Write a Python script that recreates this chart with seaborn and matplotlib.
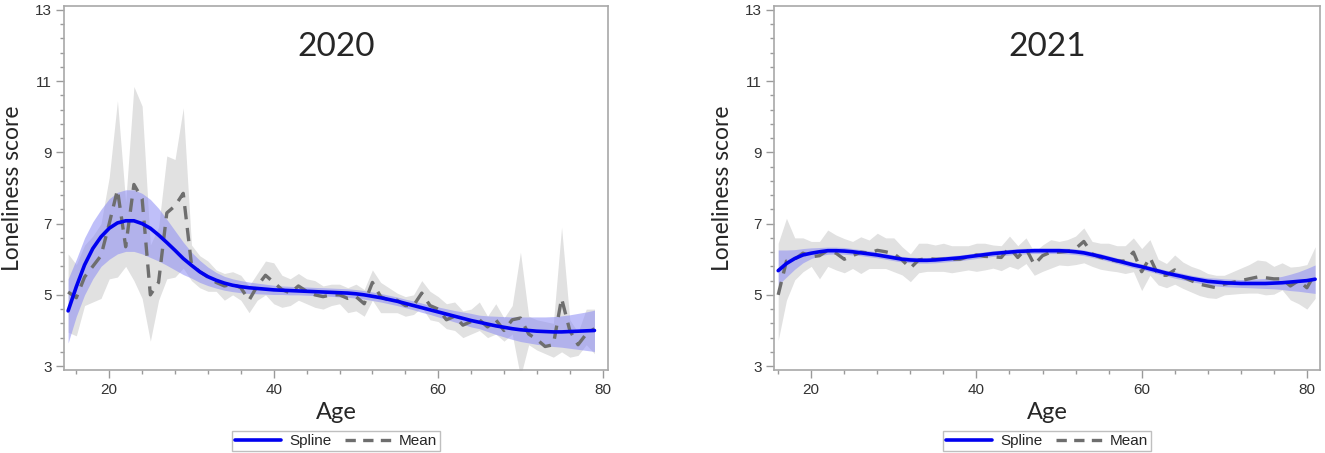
import numpy as np
import pandas as pd
import matplotlib
matplotlib.use("Agg")
import matplotlib.pyplot as plt
import seaborn as sns

# ---- 2020 panel (ages 15-79) ----
age_2020 = list(range(15, 80))
mean_2020 = [5.08, 4.92, 5.5, 5.8, 6.1, 7.0, 7.95, 6.35, 8.1, 7.7,
             5.0, 5.35, 7.3, 7.5, 7.85, 5.85, 5.65, 5.5, 5.35, 5.25,
             5.3, 5.2, 4.85, 5.25, 5.55, 5.35, 5.15, 5.05, 5.25, 5.1,
             5.0, 4.95, 5.0, 5.0, 4.9, 4.95, 4.75, 5.35, 4.95, 4.85,
             4.85, 4.7, 4.7, 5.05, 4.7, 4.6, 4.3, 4.4, 4.15, 4.25,
             4.3, 4.1, 4.3, 4.0, 4.3, 4.35, 3.9, 3.75, 3.55, 3.6,
             4.9, 4.0, 3.6, 3.9, 4.05]
mean_lo_2020 = [3.95, 3.85, 4.7, 4.8, 4.9, 5.45, 5.5, 5.8, 5.4, 4.9,
                3.7, 4.85, 5.45, 5.5, 5.75, 5.4, 5.2, 5.1, 5.1, 4.85,
                5.0, 4.85, 4.5, 4.85, 5.0, 4.75, 4.65, 4.7, 4.85, 4.75,
                4.65, 4.6, 4.7, 4.75, 4.5, 4.55, 4.4, 4.85, 4.5, 4.5,
                4.5, 4.4, 4.45, 4.65, 4.3, 4.25, 4.05, 4.0, 3.8, 3.9,
                4.0, 3.8, 3.9, 3.7, 3.9, 2.7, 3.6, 3.45, 3.35, 3.25,
                3.4, 3.25, 3.3, 3.6, 3.35]
mean_hi_2020 = [6.15, 5.85, 6.4, 6.65, 7.0, 8.3, 10.45, 7.6, 10.85, 10.3,
                6.4, 6.9, 8.9, 8.8, 10.25, 6.4, 6.1, 5.95, 5.7, 5.6,
                5.65, 5.55, 5.25, 5.6, 5.95, 5.9, 5.55, 5.45, 5.6, 5.45,
                5.4, 5.25, 5.3, 5.3, 5.2, 5.3, 5.15, 5.7, 5.35, 5.2,
                5.05, 4.95, 5.0, 5.4, 5.1, 4.95, 4.75, 4.8, 4.55, 4.6,
                4.8, 4.4, 4.75, 4.35, 4.7, 6.2, 4.4, 4.3, 4.25, 4.2,
                6.9, 4.3, 3.95, 4.6, 4.6]
spline_2020 = [4.55, 5.23, 5.84, 6.3, 6.63, 6.87, 7.02, 7.08, 7.08, 7.0,
               6.87, 6.68, 6.47, 6.25, 6.02, 5.83, 5.65, 5.51, 5.41, 5.33,
               5.27, 5.23, 5.2, 5.18, 5.16, 5.14, 5.13, 5.12, 5.11, 5.1,
               5.09, 5.08, 5.07, 5.06, 5.05, 5.03, 5.0, 4.96, 4.92, 4.87,
               4.82, 4.76, 4.7, 4.64, 4.58, 4.52, 4.46, 4.4, 4.34, 4.28,
               4.23, 4.18, 4.13, 4.09, 4.05, 4.02, 4.0, 3.98, 3.97, 3.96,
               3.96, 3.97, 3.98, 3.99, 4.0]
spline_lo_2020 = [3.65, 4.4, 5.0, 5.45, 5.8, 6.0, 6.15, 6.22, 6.22, 6.15,
                  6.05, 5.95, 5.83, 5.7, 5.57, 5.47, 5.35, 5.26, 5.19, 5.13,
                  5.09, 5.06, 5.04, 5.03, 5.02, 5.01, 5.01, 5.0, 5.0, 4.99,
                  4.98, 4.97, 4.96, 4.94, 4.93, 4.91, 4.88, 4.84, 4.8, 4.75,
                  4.7, 4.64, 4.58, 4.51, 4.45, 4.38, 4.31, 4.24, 4.17, 4.1,
                  4.05, 3.97, 3.89, 3.82, 3.75, 3.69, 3.65, 3.61, 3.58, 3.55,
                  3.53, 3.5, 3.47, 3.44, 3.41]
spline_hi_2020 = [5.45, 6.0, 6.6, 7.05, 7.4, 7.7, 7.88, 7.95, 7.95, 7.85,
                  7.68, 7.43, 7.12, 6.8, 6.48, 6.2, 5.97, 5.78, 5.63, 5.52,
                  5.45, 5.4, 5.36, 5.33, 5.3, 5.27, 5.25, 5.24, 5.23, 5.22,
                  5.21, 5.2, 5.19, 5.18, 5.17, 5.15, 5.12, 5.08, 5.04, 4.99,
                  4.94, 4.88, 4.83, 4.77, 4.71, 4.66, 4.61, 4.56, 4.52, 4.48,
                  4.43, 4.41, 4.4, 4.39, 4.38, 4.38, 4.38, 4.38, 4.38, 4.39,
                  4.41, 4.44, 4.48, 4.52, 4.57]

# ---- 2021 panel (ages 16-81) ----
age_2021 = list(range(16, 82))
mean_2021 = [5.0, 5.95, 6.0, 6.17, 6.07, 6.1, 6.25, 6.17, 6.0, 6.1,
             6.2, 6.17, 6.25, 6.21, 6.15, 5.98, 5.75, 5.98, 6.02, 6.0,
             6.0, 6.0, 6.0, 6.07, 6.12, 6.08, 6.07, 6.05, 6.33, 6.05,
             6.3, 5.85, 6.1, 6.2, 6.2, 6.22, 6.3, 6.5, 6.15, 6.05,
             6.0, 5.95, 5.95, 6.2, 5.65, 6.05, 5.55, 5.55, 5.7, 5.5,
             5.4, 5.3, 5.25, 5.2, 5.3, 5.35, 5.4, 5.45, 5.5, 5.48,
             5.45, 5.45, 5.25, 5.4, 5.2, 5.6]
mean_lo_2021 = [3.72, 4.85, 5.42, 5.65, 5.8, 5.45, 5.8, 5.7, 5.62, 5.74,
                5.6, 5.74, 5.74, 5.74, 5.65, 5.56, 5.37, 5.62, 5.66, 5.66,
                5.66, 5.62, 5.66, 5.7, 5.66, 5.7, 5.75, 5.68, 5.8, 5.72,
                5.88, 5.55, 5.66, 5.75, 5.84, 5.82, 5.85, 5.9, 5.8, 5.72,
                5.68, 5.65, 5.6, 5.65, 5.12, 5.55, 5.28, 5.2, 5.3, 5.18,
                5.08, 4.98, 4.92, 4.9, 5.0, 5.02, 5.04, 5.05, 5.05, 5.0,
                5.02, 5.14, 4.86, 4.75, 4.6, 4.9]
mean_hi_2021 = [6.45, 7.15, 6.6, 6.6, 6.5, 6.5, 6.82, 6.68, 6.58, 6.5,
                6.63, 6.54, 6.73, 6.6, 6.6, 6.35, 6.15, 6.45, 6.45, 6.4,
                6.45, 6.38, 6.38, 6.38, 6.45, 6.45, 6.4, 6.38, 6.65, 6.38,
                6.6, 6.2, 6.4, 6.55, 6.5, 6.55, 6.65, 6.88, 6.5, 6.45,
                6.45, 6.38, 6.38, 6.6, 6.3, 6.55, 6.0, 5.88, 6.12, 5.92,
                5.8, 5.72, 5.6, 5.55, 5.55, 5.65, 5.75, 5.85, 5.98, 5.95,
                5.8, 5.9, 5.78, 5.8, 5.85, 6.35]
spline_2021 = [5.68, 5.88, 6.02, 6.12, 6.17, 6.21, 6.24, 6.24, 6.23, 6.21,
               6.18, 6.15, 6.12, 6.08, 6.04, 6.0, 5.98, 5.97, 5.97, 5.98,
               6.0, 6.02, 6.04, 6.07, 6.1, 6.13, 6.16, 6.18, 6.2, 6.22,
               6.23, 6.24, 6.24, 6.24, 6.24, 6.23, 6.21, 6.18, 6.13, 6.08,
               6.02, 5.96, 5.9, 5.84, 5.79, 5.73, 5.67, 5.61, 5.56, 5.51,
               5.46, 5.42, 5.38, 5.36, 5.34, 5.33, 5.32, 5.32, 5.32, 5.32,
               5.33, 5.34, 5.36, 5.38, 5.4, 5.44]
spline_lo_2021 = [5.28, 5.5, 5.72, 5.9, 6.02, 6.1, 6.14, 6.15, 6.14, 6.12,
                  6.1, 6.07, 6.04, 6.0, 5.96, 5.92, 5.9, 5.89, 5.89, 5.9,
                  5.92, 5.94, 5.96, 5.99, 6.02, 6.05, 6.08, 6.1, 6.12, 6.14,
                  6.15, 6.16, 6.16, 6.16, 6.16, 6.15, 6.13, 6.1, 6.05, 6.0,
                  5.94, 5.88, 5.82, 5.76, 5.71, 5.65, 5.59, 5.53, 5.47, 5.42,
                  5.37, 5.33, 5.28, 5.25, 5.23, 5.22, 5.21, 5.2, 5.19, 5.18,
                  5.17, 5.15, 5.12, 5.1, 5.07, 5.04]
spline_hi_2021 = [6.26, 6.26, 6.27, 6.3, 6.32, 6.33, 6.34, 6.34, 6.33, 6.3,
                  6.27, 6.24, 6.2, 6.16, 6.12, 6.08, 6.06, 6.05, 6.05, 6.06,
                  6.08, 6.1, 6.12, 6.15, 6.18, 6.21, 6.24, 6.26, 6.28, 6.3,
                  6.31, 6.32, 6.32, 6.32, 6.32, 6.31, 6.29, 6.26, 6.21, 6.16,
                  6.1, 6.04, 5.98, 5.92, 5.87, 5.81, 5.75, 5.69, 5.65, 5.6,
                  5.55, 5.51, 5.48, 5.47, 5.45, 5.44, 5.43, 5.44, 5.45, 5.46,
                  5.48, 5.52, 5.58, 5.65, 5.74, 5.84]

x_major = [20, 40, 60, 80]
y_major = [3, 5, 7, 9, 11, 13]

panels = [
    ("2020", age_2020, mean_2020, mean_lo_2020, mean_hi_2020,
     spline_2020, spline_lo_2020, spline_hi_2020, (14.5, 80.65),
     [0.0483, 0.1832, 0.4106, 0.8035]),
    ("2021", age_2021, mean_2021, mean_lo_2021, mean_hi_2021,
     spline_2021, spline_lo_2021, spline_hi_2021, (15.5, 81.6),
     [0.5842, 0.1832, 0.4121, 0.8035]),
]

sns.set_style("white")
plt.rcParams['font.family'] = ['Liberation Sans', 'DejaVu Sans']

fig = plt.figure(figsize=(13.25, 4.53), dpi=100)

for (year, age, mean, mlo, mhi, spl, slo, shi, xlim, rect) in panels:
    ax = fig.add_axes(rect)
    df = pd.DataFrame({'Age': age, 'Mean': mean, 'Spline': spl})

    # confidence bands
    ax.fill_between(age, mlo, mhi, color='#e1e1e1', linewidth=0, zorder=1)
    ax.fill_between(age, slo, shi, color='#8c8cf5', alpha=0.55,
                    linewidth=0, zorder=2)

    sns.lineplot(data=df, x='Age', y='Spline', ax=ax, color='#0000f0',
                 linewidth=2.6, zorder=4)
    spline_line = ax.lines[-1]
    spline_line.set_label('Spline')
    sns.lineplot(data=df, x='Age', y='Mean', ax=ax, color='#6e6e6e',
                 linewidth=2.4, zorder=3)
    mean_line = ax.lines[-1]
    mean_line.set_dashes((4, 2.6))
    mean_line.set_label('Mean')

    ax.set_xlim(*xlim)
    ax.set_ylim(2.89, 13.11)
    ax.set_xticks(x_major)
    ax.set_xticks(np.arange(16, 81, 4), minor=True)
    ax.set_yticks(y_major)
    ax.set_yticks(np.arange(3, 13.01, 0.4), minor=True)
    ax.tick_params(which='major', direction='out', length=6, width=1,
                   color='#9a9a9a', labelsize=11, labelcolor='#333333',
                   bottom=True, left=True, pad=3)
    ax.tick_params(which='minor', direction='out', length=3, width=1,
                   color='#9a9a9a', bottom=True, left=True)
    for sp in ax.spines.values():
        sp.set_color('#a8a8a8')
        sp.set_linewidth(1.2)

    ax.set_xlabel('Age', fontsize=17, family=['Lato', 'DejaVu Sans'],
                  labelpad=4)
    ax.set_ylabel('Loneliness score', fontsize=16.5,
                  family=['Lato', 'DejaVu Sans'], labelpad=8)
    ax.text(0.5, 0.887, year, transform=ax.transAxes, ha='center',
            va='center', fontsize=24, family=['Lato', 'DejaVu Sans'])

    leg = ax.legend(handles=[spline_line, mean_line],
                    loc='upper center', bbox_to_anchor=(0.5, -0.168),
                    ncol=2, frameon=True, fancybox=False, fontsize=11,
                    handlelength=3.0, columnspacing=0.9, borderpad=0.2,
                    handletextpad=0.5, borderaxespad=0)
    leg.get_frame().set_edgecolor('#b0b0b0')
    leg.get_frame().set_linewidth(1.0)
    # three whole dashes in the legend sample
    leg.get_lines()[1].set_dashes((3.1, 2.2))

fig.savefig('out.png', dpi=100)
